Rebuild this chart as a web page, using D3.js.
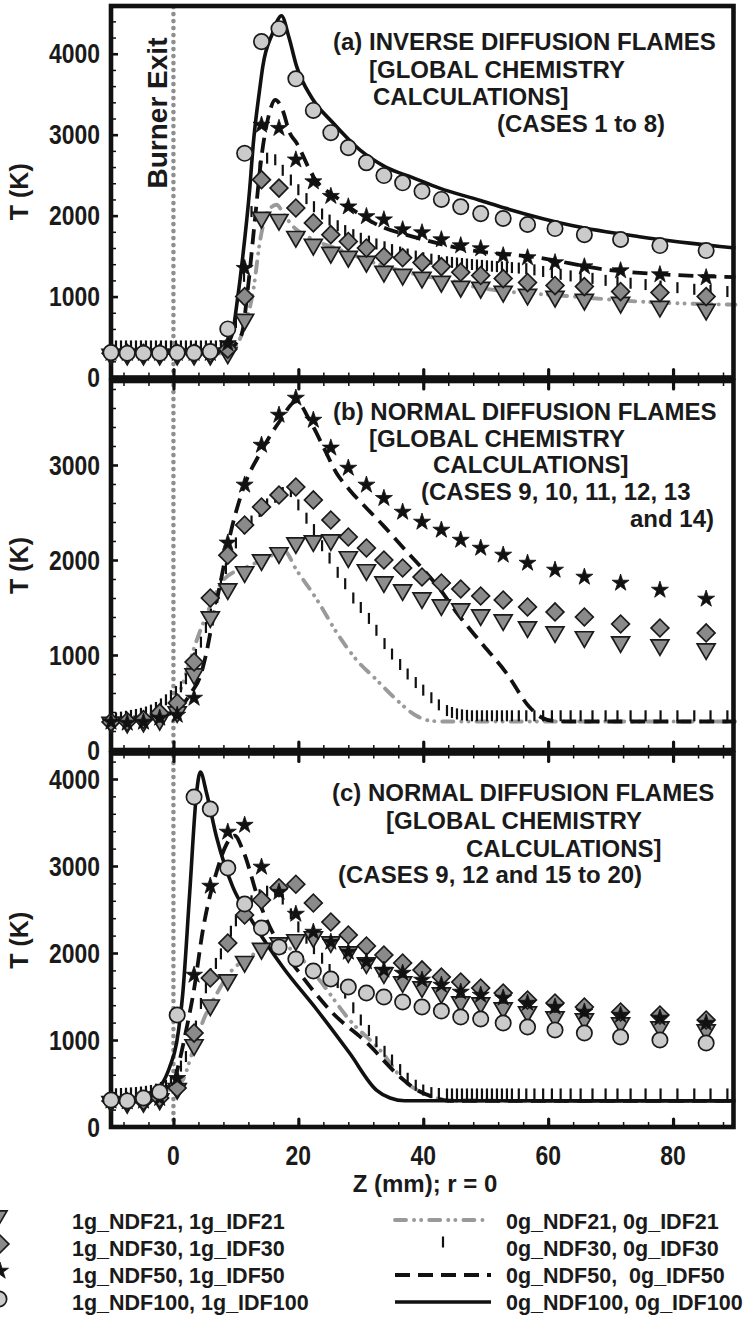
<!DOCTYPE html>
<html><head><meta charset="utf-8">
<script src="https://cdn.jsdelivr.net/npm/d3@7"></script>
<style>
body{margin:0;background:#fff}
svg text{font-family:"Liberation Sans",Arial,Helvetica,sans-serif;font-weight:bold;fill:#1a1a1a}
</style></head><body>
<svg id="chart" width="746" height="1320"></svg>
<script>
// ---------------- DATA ----------------
const zMarkers = [-10,-7.4,-4.8,-2.2,0.6,3.3,5.9,8.7,11.4,14.1,16.9,19.6,22.4,25.2,28,30.9,33.7,36.7,39.8,42.9,46,49.2,52.8,56.7,61.1,65.8,71.6,77.9,85.3];
const zBars = [-10,-9.2,-8.4,-7.6,-6.8,-6,-5.2,-4.4,-3.6,-2.8,-2,-1.2,-0.4,0.4,1.2,2,2.8,3.6,4.4,5.2,6,6.8,7.6,8.4,9.2,10,
  11.3,12.5,13.8,15,16.3,17.5,18.8,20,21.3,22.5,23.8,25,26.3,27.5,28.8,30,31.3,32.5,33.8,35,36.3,37.5,38.8,40,41.3,42.5,43.8,
  44.6,45.4,46.2,47,47.8,48.6,49.4,50.2,51,51.8,52.6,53.4,54.2,
  55.3,56.5,57.8,59.2,60.6,62,63.6,65.2,67.1,69.2,71.1,73.2,75.6,78,80.7,83.4,86,88.7];
const xTickLabels = [0,20,40,60,80];
const yTickLabelsA = [0,1000,2000,3000,4000];
const yTickLabelsB = [0,1000,2000,3000];
const yTickLabelsC = [0,1000,2000,3000,4000];

// Panel (a)
const triA  = [285,285,285,285,285,285,285,300,716,1975,1950,1740,1642,1543,1494,1432,1309,1272,1235,1185,1123,1111,1062,1025,1000,963,926,877,840];
const diaA  = [300,300,300,300,300,300,300,350,1000,2444,2340,2094,1910,1765,1680,1600,1494,1480,1420,1370,1300,1260,1222,1173,1136,1123,1062,1049,1000];
const starA = [300,300,300,300,300,300,300,420,1350,3120,3080,2690,2420,2240,2110,1990,1950,1827,1790,1704,1630,1593,1506,1481,1420,1370,1321,1272,1235];
const circA = [308,300,300,300,305,305,320,600,2770,4150,4310,3690,3300,3025,2840,2655,2495,2405,2300,2200,2110,2025,1965,1890,1840,1765,1705,1630,1568];
const barsA = [390,390,390,390,390,390,390,390,390,390,390,390,390,390,390,390,390,390,390,390,390,390,390,400,470,680,
  1250,2050,2600,2710,2690,2560,2440,2320,2210,2110,2020,1945,1875,1815,1765,1720,1685,1650,1615,1580,1550,1525,1500,1480,1462,1445,1430,
  1422,1415,1408,1402,1396,1390,1385,1380,1375,1370,1366,1362,1358,
  1352,1345,1330,1310,1296,1275,1255,1240,1225,1200,1180,1165,1148,1130,1110,1090,1075,1062];
const line21A  = [[-10,300],[9,300],[10,380],[11.2,590],[12.8,1086],[13.9,1704],[15,2037],[16.5,2135],[17.8,2000],[19.2,1864],[22.4,1704],[26.6,1580],[32,1420],[38.9,1272],[45.8,1173],[48,1123],[64,1000],[74.6,938],[90,900]];
const line50A  = [[-10,300],[8,300],[9,346],[10,420],[11,556],[11.9,1086],[13,1913],[14.1,2728],[15.3,3250],[16.3,3430],[17.5,3300],[18.6,3025],[19.7,2900],[22.4,2481],[26.6,2197],[32,1913],[38.9,1728],[47,1580],[58.6,1480],[69.2,1333],[90,1240]];
const line100A = [[-10,300],[5,302],[7,320],[8.5,400],[9.5,560],[10.1,877],[11.1,1494],[12.2,2321],[12.8,2900],[13.8,3555],[14.3,3840],[15.9,4259],[17.3,4470],[18.5,4200],[19.7,3850],[22.2,3450],[25.5,3150],[29.8,2815],[34,2600],[38.3,2470],[42.6,2340],[49,2190],[53.2,2090],[64,1875],[74.6,1740],[90,1600]];

// Panel (b)
const triB  = [290,290,300,320,400,800,1400,1695,1874,2000,2074,2179,2200,2210,2032,1895,1768,1684,1600,1526,1484,1421,1368,1295,1242,1190,1137,1105,1063];
const diaB  = [295,300,320,390,495,926,1600,2050,2368,2558,2684,2768,2632,2421,2242,2126,2000,1916,1821,1758,1695,1621,1579,1505,1453,1400,1326,1284,1232];
const starB = [295,284,295,337,368,547,null,2180,2790,3210,3526,3705,3473,3180,2968,2790,2650,2505,2400,2316,2210,2126,2053,1968,1895,1821,1758,1684,1590];
const barsB = [330,338,346,355,364,374,386,400,420,448,485,528,572,615,665,750,870,1005,1135,1290,1430,1590,1750,1910,2050,2180,
  2330,2410,2510,2590,2660,2710,2720,2580,2440,2320,2150,2020,1870,1750,1600,1500,1385,1260,1120,1010,900,800,710,630,550,475,415,
  395,380,370,365,360,360,360,360,360,360,360,360,360,
  360,360,360,360,360,360,360,360,360,360,360,360,360,360,360,360,360,360];
const line21B = [[-10,300],[-2,340],[0,450],[1.5,700],[3.7,1150],[5.8,1500],[8,1790],[11.7,1926],[15,2020],[17.6,2105],[19.7,1895],[23,1580],[26.1,1240],[29.3,950],[32.5,740],[35.7,530],[38.9,360],[41.5,305],[44,300],[90,300]];
const line50B = [[-10,300],[-5,320],[-2,360],[0,400],[1.5,480],[3,620],[4.2,760],[5.2,1000],[6.3,1370],[7.4,1720],[9,2242],[11.1,2737],[14.1,3150],[16.9,3450],[19.7,3670],[21.8,3473],[24,3190],[26.1,2916],[28.2,2737],[31,2540],[33.5,2370],[37.2,2100],[40,1900],[42.6,1700],[45.2,1460],[49,1150],[53.2,820],[57,453],[59,340],[61,305],[63,300],[90,300]];

// Panel (c)
const triC  = [290,280,290,320,440,943,1400,1690,1900,2050,2115,2150,2184,2126,2011,1885,1770,1667,1609,1540,1437,1425,1368,1322,1264,1241,1195,1149,1115];
const diaC  = [300,290,300,333,448,1080,1713,2115,2437,2609,2750,2790,2575,2356,2207,2080,1977,1885,1805,1724,1667,1598,1540,1460,1425,1379,1322,1287,1230];
const starC = [300,290,300,330,560,1747,2770,3391,3470,2989,2700,2448,2241,2126,2011,1900,1805,1770,1690,1632,1552,1517,1483,1425,1379,1322,1287,1253,1195];
const circC = [310,300,333,402,1287,3793,3655,2977,2563,2287,2069,1931,1793,1701,1609,1540,1494,1437,1379,1333,1264,1241,1195,1149,1115,1080,1034,1000,966];
const barsC = [380,382,385,388,392,396,402,410,420,435,455,480,520,600,700,810,960,1160,1420,1600,1760,1880,1990,2090,2250,2370,
  2500,2600,2670,2710,2720,2620,2450,2300,2170,2050,1940,1810,1660,1540,1370,1230,1110,980,870,770,660,560,480,425,395,385,380,
  380,380,380,380,380,380,380,380,380,380,380,380,380,
  380,380,380,380,380,380,380,380,380,380,380,380,380,380,380,380,380,380];
const line21C  = [[-10,300],[-5,330],[-2,400],[0,450],[1.5,540],[3,850],[4.8,1230],[7,1540],[9,1770],[12.2,1954],[16.5,2115],[19,2034],[23,1724],[28.2,1230],[33.5,850],[36.8,540],[40,390],[42.7,320],[45,300],[90,300]];
const line50C  = [[-10,300],[-5,340],[-2,420],[0,520],[1,770],[2,1100],[3.2,1540],[4.8,2300],[7,2954],[8.5,3250],[9.8,3350],[11.1,3184],[13.8,2575],[16.5,2149],[20.2,1770],[25.5,1310],[31,966],[36.3,575],[39,425],[41.6,345],[44,302],[90,300]];
const line100C = [[-10,300],[-5,340],[-3.8,390],[-2,480],[-0.6,690],[0.5,965],[1.5,1540],[2.6,2690],[3.7,3840],[4.3,4080],[5.3,3840],[6.9,3333],[9.5,2760],[12.2,2414],[17.5,1839],[23,1345],[28.2,850],[32.5,425],[34.7,333],[37,302],[90,300]];

// Texts
const notesA = ["(a) INVERSE DIFFUSION FLAMES","[GLOBAL CHEMISTRY","CALCULATIONS]","(CASES 1 to 8)"];
const notesB = ["(b) NORMAL DIFFUSION FLAMES","[GLOBAL CHEMISTRY","CALCULATIONS]","(CASES 9, 10, 11, 12, 13","and 14)"];
const notesC = ["(c) NORMAL DIFFUSION FLAMES","[GLOBAL CHEMISTRY","CALCULATIONS]","(CASES 9, 12 and 15 to 20)"];
const legendSymbolLabels = ["1g_NDF21, 1g_IDF21","1g_NDF30, 1g_IDF30","1g_NDF50, 1g_IDF50","1g_NDF100, 1g_IDF100"];
const legendLineLabels = ["0g_NDF21, 0g_IDF21","0g_NDF30, 0g_IDF30","0g_NDF50,\u00a0 0g_IDF50","0g_NDF100, 0g_IDF100"];

// ---------------- LAYOUT ----------------
const svg = d3.select('#chart');
const X0 = 111, X1 = 733.5;
const x = d3.scaleLinear().domain([-10, 90]).range([111, 735.5]);

const styles = {
  tri:  {type:d3.symbolTriangle, size:140, rot:180, fill:'#8e8e8e', stroke:'#1a1a1a', sw:1.7},
  dia:  {type:d3.symbolSquare,   size:158, rot:45,  fill:'#8a8a8a', stroke:'#1a1a1a', sw:1.7},
  star: {type:d3.symbolStar,     size:90,  rot:0,   fill:'#111',    stroke:'#111',    sw:0.8},
  circ: {type:d3.symbolCircle,   size:185, rot:0,   fill:'#cbcbcb', stroke:'#1a1a1a', sw:1.7}
};
const lineStyles = {
  l21:  {stroke:'#9a9a9a', sw:3.9, dash:'11,8,0.1,7,0.1,8', cap:'round'},
  l50:  {stroke:'#111', sw:3.8, dash:'15,8', cap:'butt'},
  l100: {stroke:'#111', sw:3.6, dash:null, cap:'butt'}
};
const tickFont = 27, tickSqueeze = 0.85;

const panels = [
  {top:6, bottom:377.5, max:4590, labels:yTickLabelsA, tri:triA, dia:diaA, star:starA, circ:circA, bars:barsA,
   l21:line21A, l50:line50A, l100:line100A, topTicks:false, notes:notesA,
   notePos:[[333,50],[369,78],[373,105],[497,132]]},
  {top:381, bottom:750, max:3884, labels:yTickLabelsB, tri:triB, dia:diaB, star:starB, circ:null, bars:barsB,
   l21:line21B, l50:line50B, l100:null, topTicks:true, notes:notesB,
   notePos:[[333,420],[369,447],[433,473],[421,500],[630,527]]},
  {top:753.5, bottom:1127, max:4293, labels:yTickLabelsC, tri:triC, dia:diaC, star:starC, circ:circC, bars:barsC,
   l21:line21C, l50:line50C, l100:line100C, topTicks:true, notes:notesC,
   notePos:[[332,801],[386,829],[466,857],[338,883]]}
];

// Burner exit dotted line
svg.append('line').attr('x1', x(0)).attr('x2', x(0)).attr('y1', 7).attr('y2', 1127)
  .attr('stroke', '#8f8f8f').attr('stroke-width', 4.6).attr('stroke-linecap', 'round')
  .attr('stroke-dasharray', '0.1,6.9');

const minorX = d3.range(-8, 90, 4).filter(v => v % 20 !== 0);

function sym(st) { return d3.symbol().type(st.type).size(st.size)(); }

panels.forEach((p, pi) => {
  const y = d3.scaleLinear().domain([0, p.max]).range([p.bottom, p.top]);
  const g = svg.append('g');

  // lines
  ['l21','l50','l100'].forEach(k => {
    if (!p[k]) return;
    const ls = lineStyles[k];
    g.append('path').datum(p[k])
      .attr('d', d3.line().x(d => x(d[0])).y(d => y(d[1])).curve(d3.curveMonotoneX))
      .attr('fill', 'none').attr('stroke', ls.stroke).attr('stroke-width', ls.sw)
      .attr('stroke-linecap', ls.cap).attr('stroke-linejoin', 'round')
      .attr('stroke-dasharray', ls.dash);
  });

  // frame
  g.append('rect').attr('x', X0).attr('y', p.top).attr('width', X1 - X0).attr('height', p.bottom - p.top)
    .attr('fill', 'none').attr('stroke', '#111').attr('stroke-width', 4.6);

  // left axis ticks
  const yMinor = d3.range(200, p.max, 200).filter(v => v % 1000 !== 0);
  const ay = g.append('g').attr('transform', `translate(${X0},0)`)
    .call(d3.axisLeft(y).tickValues(p.labels).tickSize(-7).tickFormat(''));
  ay.select('.domain').remove();
  ay.selectAll('line').attr('stroke', '#111').attr('stroke-width', 2.6);
  const aym = g.append('g').attr('transform', `translate(${X0},0)`)
    .call(d3.axisLeft(y).tickValues(yMinor).tickSize(-5).tickFormat(''));
  aym.select('.domain').remove();
  aym.selectAll('line').attr('stroke', '#111').attr('stroke-width', 1.5);
  // y tick labels
  g.selectAll(null).data(p.labels).join('text')
    .attr('transform', d => `translate(100,${y(d)}) scale(${tickSqueeze},1)`)
    .attr('dy', '0.36em').attr('text-anchor', 'end').attr('font-size', tickFont)
    .text(d3.format('d'));

  // bottom x ticks
  const isLast = pi === panels.length - 1;
  const axb = g.append('g').attr('transform', `translate(0,${p.bottom})`)
    .call(d3.axisBottom(x).tickValues(xTickLabels).tickSize(-8).tickFormat(''));
  axb.select('.domain').remove();
  axb.selectAll('line').attr('stroke', '#111').attr('stroke-width', 3.2).attr('stroke-linecap', 'round');
  const axbm = g.append('g').attr('transform', `translate(0,${p.bottom})`)
    .call(d3.axisBottom(x).tickValues(minorX).tickSize(-5).tickFormat(''));
  axbm.select('.domain').remove();
  axbm.selectAll('line').attr('stroke', '#111').attr('stroke-width', 1.5);
  if (isLast) {
    g.selectAll(null).data(xTickLabels).join('text')
      .attr('transform', d => `translate(${x(d)},${p.bottom + 38}) scale(${tickSqueeze},1)`)
      .attr('text-anchor', 'middle').attr('font-size', tickFont).text(d3.format('d'));
  }

  if (p.topTicks) {
    const axt = g.append('g').attr('transform', `translate(0,${p.top})`)
      .call(d3.axisTop(x).tickValues(xTickLabels).tickSize(-8).tickFormat(''));
    axt.select('.domain').remove();
    axt.selectAll('line').attr('stroke', '#111').attr('stroke-width', 3.2).attr('stroke-linecap', 'round');
    const axtm = g.append('g').attr('transform', `translate(0,${p.top})`)
      .call(d3.axisTop(x).tickValues(minorX).tickSize(-5).tickFormat(''));
    axtm.select('.domain').remove();
    axtm.selectAll('line').attr('stroke', '#111').attr('stroke-width', 1.5);
  }

  // y title
  g.append('text').attr('transform', `translate(28,${(p.top + p.bottom) / 2}) rotate(-90)`)
    .attr('text-anchor', 'middle').attr('font-size', 25).text('T (K)');

  // bars (0g_NDF30)
  g.selectAll(null).data(zBars.map((z, i) => [z, p.bars[i]])).join('rect')
    .attr('x', d => x(d[0]) - 1.1).attr('y', d => y(d[1]) - 5.5)
    .attr('width', 2.2).attr('height', 11).attr('fill', '#111');

  // markers
  ['tri','dia','star','circ'].forEach(k => {
    if (!p[k]) return;
    const st = styles[k];
    const data = zMarkers.map((z, i) => [z, p[k][i]]).filter(d => d[1] != null);
    g.selectAll(null).data(data).join('path')
      .attr('transform', d => `translate(${x(d[0])},${y(d[1])}) rotate(${st.rot})`)
      .attr('d', sym(st)).attr('fill', st.fill).attr('stroke', st.stroke).attr('stroke-width', st.sw)
      .attr('stroke-linejoin', 'miter');
  });

  // notes
  p.notes.forEach((t, i) => {
    g.append('text').attr('x', p.notePos[i][0]).attr('y', p.notePos[i][1])
      .attr('font-size', 24).text(t);
  });
});

// Burner exit label
svg.append('text').attr('transform', 'translate(167,113) rotate(-90)')
  .attr('text-anchor', 'middle').attr('font-size', 28).text('Burner Exit');

// x-axis title
svg.append('text').attr('x', 425).attr('y', 1192).attr('text-anchor', 'middle')
  .attr('font-size', 24).text('Z (mm); r = 0');

// Legend – symbols
const legSym = ['tri','dia','star','circ'];
const legSymPos = [[-2,1216],[0,1244],[0,1271],[-1,1299]];
const legBase = [1229,1256,1283,1310];
legSym.forEach((k, i) => {
  const st = styles[k];
  svg.append('path').attr('transform', `translate(${legSymPos[i][0]},${legSymPos[i][1]}) rotate(${st.rot})`)
    .attr('d', sym(st)).attr('fill', st.fill).attr('stroke', st.stroke).attr('stroke-width', st.sw);
  svg.append('text').attr('x', 72).attr('y', legBase[i]).attr('font-size', 21.5).text(legendSymbolLabels[i]);
});

// Legend – lines
const legLineY = [1220, 1242, 1275, 1302];
[['l21',395,486],[null],['l50',395,491],['l100',395,491]].forEach((d, i) => {
  if (d[0]) {
    const ls = lineStyles[d[0]];
    svg.append('line').attr('x1', d[1]).attr('x2', d[2]).attr('y1', legLineY[i]).attr('y2', legLineY[i])
      .attr('stroke', ls.stroke).attr('stroke-width', ls.sw).attr('stroke-linecap', ls.cap)
      .attr('stroke-dasharray', ls.dash);
  } else {
    svg.append('rect').attr('x', 443 - 1.1).attr('y', legLineY[i] - 5.5).attr('width', 2.2).attr('height', 11).attr('fill', '#111');
  }
  svg.append('text').attr('x', 506).attr('y', legBase[i]).attr('font-size', 21.5).text(legendLineLabels[i]);
});
</script>
</body></html>
